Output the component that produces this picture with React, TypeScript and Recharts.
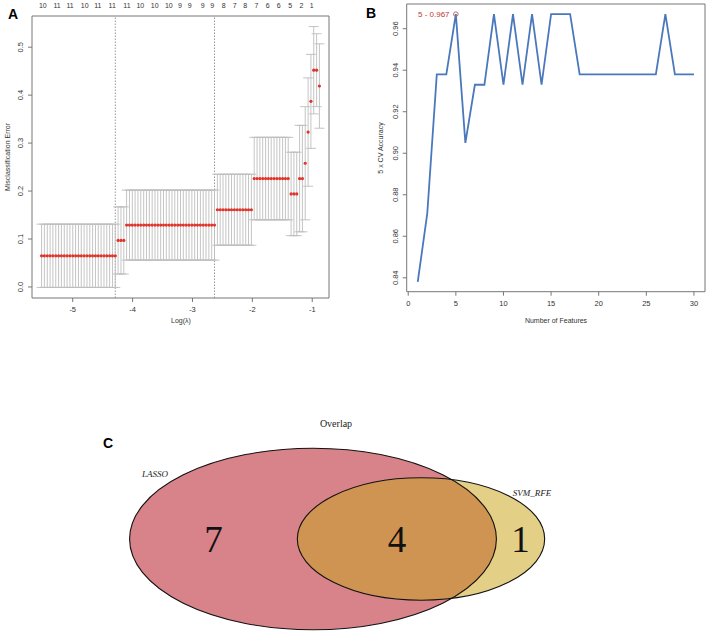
import React from "react";
import {
  ErrorBar,
  Line,
  LineChart,
  ReferenceDot,
  ReferenceLine,
  Scatter,
  ScatterChart,
  XAxis,
  YAxis,
} from "recharts";

// Panel A: LASSO cross-validation
const LOG_LAMBDA = [
  -5.52, -5.473, -5.425, -5.378, -5.331, -5.283, -5.236, -5.189, -5.141, -5.094,
  -5.047, -4.999, -4.952, -4.904, -4.857, -4.81, -4.762, -4.715, -4.668, -4.62,
  -4.573, -4.526, -4.478, -4.431, -4.384, -4.336, -4.289, -4.242, -4.194, -4.147,
  -4.1, -4.052, -4.005, -3.958, -3.91, -3.863, -3.815, -3.768, -3.721, -3.673,
  -3.626, -3.579, -3.531, -3.484, -3.437, -3.389, -3.342, -3.295, -3.247, -3.2,
  -3.153, -3.105, -3.058, -3.01, -2.963, -2.916, -2.868, -2.821, -2.774, -2.726,
  -2.679, -2.632, -2.584, -2.537, -2.49, -2.442, -2.395, -2.348, -2.3, -2.253,
  -2.206, -2.158, -2.111, -2.064, -2.016, -1.969, -1.921, -1.874, -1.827, -1.779,
  -1.732, -1.685, -1.637, -1.59, -1.543, -1.495, -1.448, -1.401, -1.353, -1.306,
  -1.259, -1.211, -1.164, -1.117, -1.069, -1.022, -0.975, -0.927, -0.88,
];

const CV_ERROR = [
  0.065, 0.065, 0.065, 0.065, 0.065, 0.065, 0.065, 0.065, 0.065, 0.065,
  0.065, 0.065, 0.065, 0.065, 0.065, 0.065, 0.065, 0.065, 0.065, 0.065,
  0.065, 0.065, 0.065, 0.065, 0.065, 0.065, 0.065, 0.097, 0.097, 0.097,
  0.129, 0.129, 0.129, 0.129, 0.129, 0.129, 0.129, 0.129, 0.129, 0.129,
  0.129, 0.129, 0.129, 0.129, 0.129, 0.129, 0.129, 0.129, 0.129, 0.129,
  0.129, 0.129, 0.129, 0.129, 0.129, 0.129, 0.129, 0.129, 0.129, 0.129,
  0.129, 0.129, 0.161, 0.161, 0.161, 0.161, 0.161, 0.161, 0.161, 0.161,
  0.161, 0.161, 0.161, 0.161, 0.161, 0.226, 0.226, 0.226, 0.226, 0.226,
  0.226, 0.226, 0.226, 0.226, 0.226, 0.226, 0.226, 0.226, 0.194, 0.194,
  0.194, 0.226, 0.226, 0.258, 0.323, 0.387, 0.452, 0.452, 0.419,
];

const CV_SD = [
  0.066, 0.066, 0.066, 0.066, 0.066, 0.066, 0.066, 0.066, 0.066, 0.066,
  0.066, 0.066, 0.066, 0.066, 0.066, 0.066, 0.066, 0.066, 0.066, 0.066,
  0.066, 0.066, 0.066, 0.066, 0.066, 0.066, 0.066, 0.07, 0.07, 0.07,
  0.073, 0.073, 0.073, 0.073, 0.073, 0.073, 0.073, 0.073, 0.073, 0.073,
  0.073, 0.073, 0.073, 0.073, 0.073, 0.073, 0.073, 0.073, 0.073, 0.073,
  0.073, 0.073, 0.073, 0.073, 0.073, 0.073, 0.073, 0.073, 0.073, 0.073,
  0.073, 0.073, 0.074, 0.074, 0.074, 0.074, 0.074, 0.074, 0.074, 0.074,
  0.074, 0.074, 0.074, 0.074, 0.074, 0.086, 0.086, 0.086, 0.086, 0.086,
  0.086, 0.086, 0.086, 0.086, 0.086, 0.086, 0.086, 0.086, 0.087, 0.087,
  0.087, 0.111, 0.111, 0.118, 0.113, 0.098, 0.091, 0.076, 0.088,
];

const LAMBDA_MIN = -4.289;
const LAMBDA_1SE = -2.632;

const TOP_TICKS = [
  -5.5, -5.26, -5.045, -4.8, -4.58, -4.34, -4.095, -3.87, -3.63, -3.395, -3.21, -3.045,
  -2.83, -2.67, -2.48, -2.295, -2.12, -1.93, -1.745, -1.56, -1.37, -1.18, -1.007,
];
const TOP_LABELS = [
  "10", "11", "11", "10", "11", "11", "11", "10", "10", "10", "9", "9",
  "9", "9", "8", "7", "8", "7", "6", "6", "5", "2", "1",
];

// Panel B: SVM-RFE accuracy
const FEATURES = [
  1, 2, 3, 4, 5, 6, 7, 8, 9, 10, 11, 12, 13, 14, 15,
  16, 17, 18, 19, 20, 21, 22, 23, 24, 25, 26, 27, 28, 29, 30,
];
const ACCURACY = [
  0.838, 0.871, 0.938, 0.938, 0.967, 0.905, 0.933, 0.933, 0.967, 0.933,
  0.967, 0.933, 0.967, 0.933, 0.967, 0.967, 0.967, 0.938, 0.938, 0.938,
  0.938, 0.938, 0.938, 0.938, 0.938, 0.938, 0.967, 0.938, 0.938, 0.938,
];

// Panel C: overlap
const VENN_SETS = ["LASSO", "SVM_RFE"];
const VENN_SIZES = [11, 5];
const VENN_OVERLAP = 4;

const SANS = "'Liberation Sans', Arial, sans-serif";
const SERIF = "'Liberation Serif', 'Times New Roman', serif";
const FRAME = "#777";
const TEXT = "#333";

const cvData = LOG_LAMBDA.map((x, i) => ({ x, y: CV_ERROR[i], sd: CV_SD[i] }));
const accData = FEATURES.map((n, i) => ({ n, acc: ACCURACY[i] }));

// venn layout (pixels inside the venn chart)
const VENN_CX = [313, 421];
const VENN_CY = 139;
const AREA_PER_ITEM = 1514;
const ASPECT = 0.495;
const vennGeom = VENN_SIZES.map((size, i) => {
  const rx = Math.sqrt((AREA_PER_ITEM * size) / ASPECT);
  return { name: VENN_SETS[i], x: VENN_CX[i], y: VENN_CY, rx, ry: rx * ASPECT };
});
const [big, small] = vennGeom;
const countData = [
  { x: (big.x - big.rx + small.x - small.rx) / 2, y: VENN_CY, label: String(VENN_SIZES[0] - VENN_OVERLAP) },
  { x: (small.x - small.rx + big.x + big.rx) / 2, y: VENN_CY, label: String(VENN_OVERLAP) },
  { x: (big.x + big.rx + small.x + small.rx) / 2, y: VENN_CY, label: String(VENN_SIZES[1] - VENN_OVERLAP) },
];
const nameData = [
  { x: 155, y: 74, label: VENN_SETS[0] },
  { x: 532, y: 93, label: VENN_SETS[1] },
];
const titleData = [{ x: 336, y: 23, label: "Overlap" }];

const VENN_COLORS = ["#d8838a", "#e4cf87"];
const OVERLAP_COLOR = "#d09452";

function RotYTick(props: any) {
  const { x, y, payload, digits } = props;
  const tx = x - 3;
  return (
    <text
      x={tx}
      y={y}
      transform={`rotate(-90 ${tx} ${y})`}
      textAnchor="middle"
      fontSize={7.5}
      fontFamily={SANS}
      fill={TEXT}
    >
      {payload.value.toFixed(digits)}
    </text>
  );
}

function BottomTick(props: any) {
  const { x, y, payload } = props;
  return (
    <text x={x} y={y} dy="0.71em" textAnchor="middle" fontSize={7.5} fontFamily={SANS} fill={TEXT}>
      {payload.value}
    </text>
  );
}

function TopTick(props: any) {
  const { x, y, index } = props;
  return (
    <text x={x} y={y} textAnchor="middle" fontSize={7} fontFamily={SANS} fill={TEXT}>
      {TOP_LABELS[index]}
    </text>
  );
}

function AxisTitle({ x, y, text, rotate }: { x: number; y: number; text: string; rotate?: boolean }) {
  return (
    <div
      style={{
        position: "absolute",
        left: x,
        top: y,
        transform: `translate(-50%, -50%)${rotate ? " rotate(-90deg)" : ""}`,
        fontSize: 7,
        fontFamily: SANS,
        color: TEXT,
        whiteSpace: "nowrap",
        lineHeight: 1,
      }}
    >
      {text}
    </div>
  );
}

function PanelLetter({ x, y, text }: { x: number; y: number; text: string }) {
  return (
    <div
      style={{
        position: "absolute",
        left: x,
        top: y,
        fontSize: 14,
        fontWeight: 700,
        fontFamily: SANS,
        color: "#000",
        lineHeight: 1,
      }}
    >
      {text}
    </div>
  );
}

function LassoPanel() {
  const domX: [number, number] = [-5.68, -0.72];
  const domY: [number, number] = [-0.023, 0.565];
  return (
    <ScatterChart width={340} height={335} margin={{ top: 2, right: 6, bottom: 7, left: 2 }}>
      <XAxis
        xAxisId="b"
        type="number"
        dataKey="x"
        domain={domX}
        allowDataOverflow
        ticks={[-5, -4, -3, -2, -1]}
        height={30}
        tickSize={4}
        tickMargin={5}
        stroke={FRAME}
        tick={<BottomTick />}
      />
      <XAxis
        xAxisId="t"
        orientation="top"
        type="number"
        dataKey="x"
        domain={domX}
        allowDataOverflow
        ticks={TOP_TICKS}
        interval={0}
        height={14}
        tickSize={0}
        tickMargin={8}
        tickLine={false}
        stroke={FRAME}
        tick={<TopTick />}
      />
      <YAxis
        yAxisId="l"
        type="number"
        dataKey="y"
        domain={domY}
        allowDataOverflow
        ticks={[0, 0.1, 0.2, 0.3, 0.4, 0.5]}
        width={30}
        tickSize={4}
        tickMargin={2}
        stroke={FRAME}
        tick={<RotYTick digits={1} />}
      />
      <YAxis
        yAxisId="r"
        orientation="right"
        type="number"
        domain={domY}
        allowDataOverflow
        width={5}
        tick={false}
        tickLine={false}
        stroke={FRAME}
      />
      <ReferenceLine xAxisId="b" yAxisId="l" x={LAMBDA_MIN} stroke="#999" strokeDasharray="1.5 1.5" />
      <ReferenceLine xAxisId="b" yAxisId="l" x={LAMBDA_1SE} stroke="#999" strokeDasharray="1.5 1.5" />
      <Scatter
        xAxisId="b"
        yAxisId="l"
        data={cvData}
        isAnimationActive={false}
        shape={(p: any) => <circle cx={p.cx} cy={p.cy} r={1.6} fill="#e0342b" />}
      >
        <ErrorBar dataKey="sd" direction="y" width={5} stroke="#bdbdbd" strokeWidth={0.9} isAnimationActive={false} />
      </Scatter>
    </ScatterChart>
  );
}

function RfePanel() {
  const domX: [number, number] = [-0.16, 31.16];
  const domY: [number, number] = [0.8333, 0.9719];
  return (
    <LineChart width={348} height={335} data={accData} margin={{ top: 2, right: 1, bottom: 13.3, left: 16.7 }}>
      <XAxis
        xAxisId="b"
        type="number"
        dataKey="n"
        domain={domX}
        allowDataOverflow
        ticks={[0, 5, 10, 15, 20, 25, 30]}
        height={30}
        tickSize={4}
        tickMargin={5}
        stroke={FRAME}
        tick={<BottomTick />}
      />
      <XAxis
        xAxisId="t"
        orientation="top"
        type="number"
        dataKey="n"
        domain={domX}
        allowDataOverflow
        height={2}
        tick={false}
        tickLine={false}
        stroke={FRAME}
      />
      <YAxis
        yAxisId="l"
        type="number"
        domain={domY}
        allowDataOverflow
        ticks={[0.84, 0.86, 0.88, 0.9, 0.92, 0.94, 0.96]}
        width={30}
        tickSize={4}
        tickMargin={2}
        stroke={FRAME}
        tick={<RotYTick digits={2} />}
      />
      <YAxis
        yAxisId="r"
        orientation="right"
        type="number"
        domain={domY}
        allowDataOverflow
        width={2}
        tick={false}
        tickLine={false}
        stroke={FRAME}
      />
      <Line
        xAxisId="b"
        yAxisId="l"
        type="linear"
        dataKey="acc"
        stroke="#4a78bd"
        strokeWidth={1.8}
        dot={false}
        isAnimationActive={false}
      />
      <ReferenceDot
        xAxisId="b"
        yAxisId="l"
        x={5}
        y={0.967}
        r={2.3}
        fill="none"
        stroke="#b86a6a"
        strokeWidth={1}
        label={{ value: "5 - 0.967", position: "left", offset: 4, fill: "#c0392b", fontSize: 8, fontFamily: SANS }}
      />
    </LineChart>
  );
}

function VennPanel() {
  const fillShape = (p: any) => {
    const i = p.index;
    const g = vennGeom[i];
    if (i === 0) {
      return <ellipse cx={p.cx} cy={p.cy} rx={g.rx} ry={g.ry} fill={VENN_COLORS[0]} />;
    }
    return (
      <g>
        <defs>
          <clipPath id="venn-big-clip">
            <ellipse cx={big.x} cy={big.y} rx={big.rx} ry={big.ry} />
          </clipPath>
        </defs>
        <ellipse cx={p.cx} cy={p.cy} rx={g.rx} ry={g.ry} fill={VENN_COLORS[1]} />
        <ellipse cx={p.cx} cy={p.cy} rx={g.rx} ry={g.ry} fill={OVERLAP_COLOR} clipPath="url(#venn-big-clip)" />
      </g>
    );
  };
  const outlineShape = (p: any) => {
    const g = vennGeom[p.index];
    return <ellipse cx={p.cx} cy={p.cy} rx={g.rx} ry={g.ry} fill="none" stroke="#111" strokeWidth={1.1} />;
  };
  const countShape = (p: any) => (
    <text x={p.cx} y={p.cy} textAnchor="middle" dominantBaseline="central" fontSize={37} fontFamily={SERIF} fill="#111">
      {p.payload.label}
    </text>
  );
  const nameShape = (p: any) => (
    <text x={p.cx} y={p.cy} textAnchor="middle" dominantBaseline="central" fontSize={9} fontStyle="italic" fontFamily={SERIF} fill="#222">
      {p.payload.label}
    </text>
  );
  const titleShape = (p: any) => (
    <text x={p.cx} y={p.cy} textAnchor="middle" dominantBaseline="central" fontSize={10} fontFamily={SERIF} fill="#222">
      {p.payload.label}
    </text>
  );
  return (
    <ScatterChart width={708} height={235} margin={{ top: 0, right: 0, bottom: 0, left: 0 }}>
      <XAxis type="number" dataKey="x" domain={[0, 708]} hide />
      <YAxis type="number" dataKey="y" domain={[0, 235]} reversed hide />
      <Scatter data={vennGeom} shape={fillShape} isAnimationActive={false} />
      <Scatter data={vennGeom} shape={outlineShape} isAnimationActive={false} />
      <Scatter data={countData} shape={countShape} isAnimationActive={false} />
      <Scatter data={nameData} shape={nameShape} isAnimationActive={false} />
      <Scatter data={titleData} shape={titleShape} isAnimationActive={false} />
    </ScatterChart>
  );
}

export default function App() {
  return (
    <div style={{ position: "absolute", left: 0, top: 0, width: 708, height: 635, background: "#fff", overflow: "hidden" }}>
      <div style={{ position: "absolute", left: 0, top: 0 }}>
        <LassoPanel />
      </div>
      <div style={{ position: "absolute", left: 360, top: 0 }}>
        <RfePanel />
      </div>
      <div style={{ position: "absolute", left: 0, top: 400 }}>
        <VennPanel />
      </div>
      <AxisTitle x={181} y={320} text="Log(λ)" />
      <AxisTitle x={7} y={157} text="Misclassification Error" rotate />
      <AxisTitle x={556} y={320} text="Number of Features" />
      <AxisTitle x={380} y={148} text="5 x CV Accuracy" rotate />
      <PanelLetter x={8} y={7} text="A" />
      <PanelLetter x={366} y={6} text="B" />
      <PanelLetter x={103} y={436} text="C" />
    </div>
  );
}
